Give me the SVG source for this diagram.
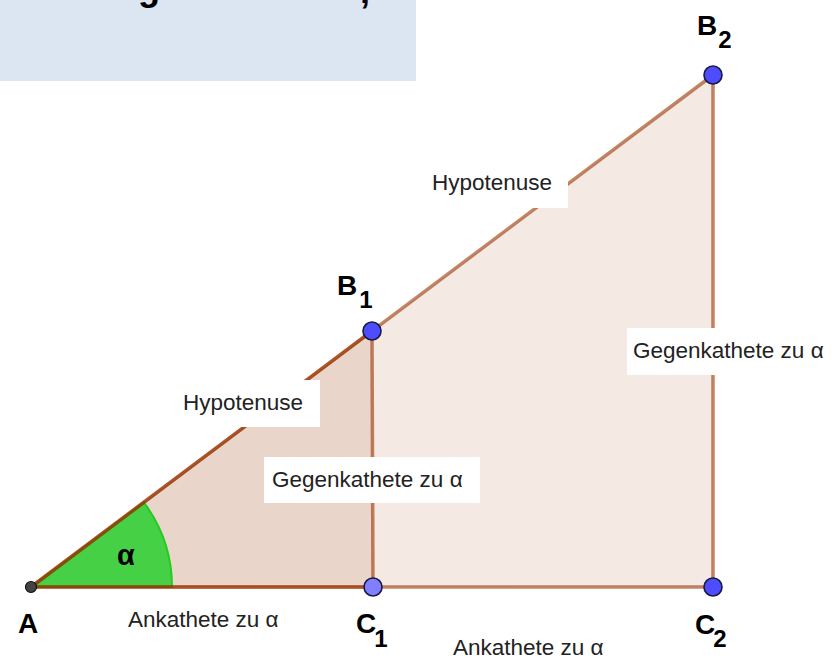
<svg xmlns="http://www.w3.org/2000/svg" width="840" height="659" viewBox="0 0 840 659">
<style>
.fill{fill:rgb(153,51,0);fill-opacity:0.11;stroke:none}
.seg{stroke:rgb(153,51,0);stroke-opacity:0.6;stroke-width:3.5;stroke-linecap:round;fill:none}
.box{fill:#ffffff}
.lbl{font-family:"Liberation Sans",Arial,sans-serif;font-size:22.5px;fill:#222}
.pl{font-family:"Liberation Sans",Arial,sans-serif;font-size:28px;font-weight:bold;fill:#000}
.sub{font-size:24px}
.pt{fill:#4d4dff;stroke:#1a1a40;stroke-width:1.6}
</style>
<rect width="840" height="659" fill="#ffffff"/>
<g id="titlebox">
<rect x="0" y="0" width="416" height="81" fill="#dce6f2"/>
<text x="138" y="0" font-family="Liberation Sans,Arial,sans-serif" font-size="36" font-weight="bold" fill="#000">g</text>
<text x="360" y="3" font-family="Liberation Sans,Arial,sans-serif" font-size="36" font-weight="bold" fill="#000">,</text>
</g>
<g id="fills">
<polygon class="fill" points="31,587 713,587 713,75"/>
<polygon class="fill" points="31,587 373,587 372,331"/>
</g>
<g id="angle-alpha">
<path d="M31,587 L172,587 A141,141 0 0 0 143.8,502.4 Z" fill="#46d046" stroke="#22cc22" stroke-width="2"/>
<text x="117" y="565" font-family="Liberation Sans,Arial,sans-serif" font-size="29" font-weight="bold" fill="#000">α</text>
</g>
<g id="connectors">
<line class="seg" x1="31" y1="587" x2="373" y2="587"/>
<line class="seg" x1="373" y1="587" x2="372" y2="331"/>
<line class="seg" x1="372" y1="331" x2="31" y2="587"/>
<line class="seg" x1="31" y1="587" x2="713" y2="587"/>
<line class="seg" x1="713" y1="587" x2="713" y2="75"/>
<line class="seg" x1="713" y1="75" x2="31" y2="587"/>
</g>
<g id="edge-labels">
<g id="lbl-hyp1"><rect class="box" x="174" y="380" width="146" height="47"/><text class="lbl" x="183" y="410">Hypotenuse</text></g>
<g id="lbl-hyp2"><rect class="box" x="423" y="161" width="145" height="47"/><text class="lbl" x="432" y="190">Hypotenuse</text></g>
<g id="lbl-geg1"><rect class="box" x="264" y="457" width="216" height="46"/><text class="lbl" x="272" y="487">Gegenkathete zu α</text></g>
<g id="lbl-geg2"><rect class="box" x="627" y="328" width="213" height="47"/><text class="lbl" x="633" y="358">Gegenkathete zu α</text></g>
<g id="lbl-ank1"><text class="lbl" x="128" y="627">Ankathete zu α</text></g>
<g id="lbl-ank2"><text class="lbl" x="453" y="655">Ankathete zu α</text></g>
</g>
<g id="node-A">
<circle cx="31" cy="587" r="5.5" fill="#444444" stroke="#111" stroke-width="1.2"/>
<text class="pl" x="18" y="633">A</text>
</g>
<g id="node-C1">
<circle class="pt" cx="373" cy="587" r="9" style="fill:#7f7fff"/>
<text class="pl" x="356" y="633">C<tspan class="sub" dx="-2" dy="14">1</tspan></text>
</g>
<g id="node-C2">
<circle class="pt" cx="713" cy="587" r="9"/>
<text class="pl" x="695" y="634">C<tspan class="sub" dx="-2" dy="13">2</tspan></text>
</g>
<g id="node-B1">
<circle class="pt" cx="372" cy="331" r="9"/>
<text class="pl" x="337" y="295">B<tspan class="sub" dx="2" dy="13">1</tspan></text>
</g>
<g id="node-B2">
<circle class="pt" cx="713" cy="75" r="9"/>
<text class="pl" x="697" y="35">B<tspan class="sub" dx="1" dy="13">2</tspan></text>
</g>
</svg>
